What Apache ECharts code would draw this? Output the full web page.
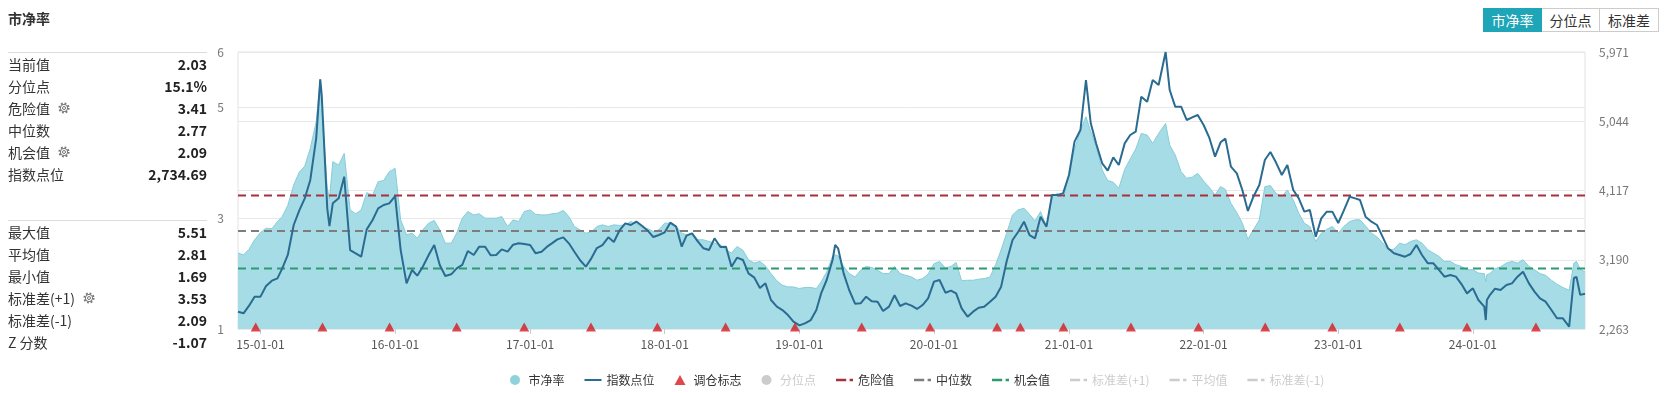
<!DOCTYPE html>
<html>
<head>
<meta charset="utf-8">
<script src="https://cdn.jsdelivr.net/npm/echarts@6/dist/echarts.min.js"></script>
<style>
html,body{margin:0;padding:0;background:#fff;width:1664px;height:393px;overflow:hidden;font-family:"Noto Sans CJK SC","Noto Sans",sans-serif;}
#chart{position:absolute;left:0;top:0;width:1664px;height:393px;}
.title{position:absolute;left:8px;top:8px;font-size:14px;font-weight:bold;color:#333;line-height:20px;}
.sep{position:absolute;left:8px;width:199px;height:1px;background:#dcdcdc;}
.row{position:absolute;left:8px;width:199px;height:22px;line-height:22px;font-size:14px;color:#333;white-space:nowrap;}
.row .v{position:absolute;right:0;top:0;font-weight:bold;color:#222;}
.row .gear{position:absolute;top:5px;width:12px;height:12px;}
.btns{position:absolute;left:1483px;top:8px;height:24px;display:flex;}
.btn{height:22px;line-height:22px;font-size:14px;color:#333;border:1px solid #ccc;background:#fff;text-align:center;box-sizing:content-box;}
.btn.active{background:#1ea5b8;border-color:#1ea5b8;color:#fff;}
</style>
</head>
<body>
<div id="chart"></div>
<div class="title">市净率</div>
<div class="sep" style="top:52px"></div>
<div class="row" style="top:53px">当前值<span class="v">2.03</span></div>
<div class="row" style="top:75px">分位点<span class="v">15.1%</span></div>
<div class="row" style="top:97px">危险值<svg class="gear" style="left:50px" viewBox="0 0 12 12"><g fill="none" stroke="#777"><circle cx="6" cy="6" r="4.6" stroke-width="2" stroke-dasharray="1.8 1.81"/><circle cx="6" cy="6" r="3.6" stroke-width="1"/><circle cx="6" cy="6" r="1.5" stroke-width="1"/></g></svg><span class="v">3.41</span></div>
<div class="row" style="top:119px">中位数<span class="v">2.77</span></div>
<div class="row" style="top:141px">机会值<svg class="gear" style="left:50px" viewBox="0 0 12 12"><g fill="none" stroke="#777"><circle cx="6" cy="6" r="4.6" stroke-width="2" stroke-dasharray="1.8 1.81"/><circle cx="6" cy="6" r="3.6" stroke-width="1"/><circle cx="6" cy="6" r="1.5" stroke-width="1"/></g></svg><span class="v">2.09</span></div>
<div class="row" style="top:163px">指数点位<span class="v">2,734.69</span></div>
<div class="sep" style="top:220px"></div>
<div class="row" style="top:221px">最大值<span class="v">5.51</span></div>
<div class="row" style="top:243px">平均值<span class="v">2.81</span></div>
<div class="row" style="top:265px">最小值<span class="v">1.69</span></div>
<div class="row" style="top:287px">标准差(+1)<svg class="gear" style="left:75px" viewBox="0 0 12 12"><g fill="none" stroke="#777"><circle cx="6" cy="6" r="4.6" stroke-width="2" stroke-dasharray="1.8 1.81"/><circle cx="6" cy="6" r="3.6" stroke-width="1"/><circle cx="6" cy="6" r="1.5" stroke-width="1"/></g></svg><span class="v">3.53</span></div>
<div class="row" style="top:309px">标准差(-1)<span class="v">2.09</span></div>
<div class="row" style="top:331px">Z 分数<span class="v">-1.07</span></div>
<div class="btns"><div class="btn active" style="width:57px">市净率</div><div class="btn" style="width:57px;border-left:none">分位点</div><div class="btn" style="width:58px;border-left:none">标准差</div></div>
<script>
// ---- data (one line per year) ----
const dates = [
  '2014-11-01','2014-11-16','2014-12-01','2014-12-16',
  '2015-01-01','2015-01-16','2015-02-01','2015-02-16','2015-03-01','2015-03-16','2015-04-01','2015-04-16','2015-05-01','2015-05-16','2015-06-01','2015-06-12','2015-06-16','2015-07-01','2015-07-07','2015-07-16','2015-08-01','2015-08-16','2015-09-01','2015-09-16','2015-10-01','2015-10-16','2015-11-01','2015-11-16','2015-12-01','2015-12-16',
  '2016-01-01','2016-01-16','2016-02-01','2016-02-16','2016-03-01','2016-03-16','2016-04-01','2016-04-16','2016-05-01','2016-05-16','2016-06-01','2016-06-16','2016-07-01','2016-07-16','2016-08-01','2016-08-16','2016-09-01','2016-09-16','2016-10-01','2016-10-16','2016-11-01','2016-11-16','2016-12-01','2016-12-16',
  '2017-01-01','2017-01-16','2017-02-01','2017-02-16','2017-03-01','2017-03-16','2017-04-01','2017-04-16','2017-05-01','2017-05-16','2017-06-01','2017-06-16','2017-07-01','2017-07-16','2017-08-01','2017-08-16','2017-09-01','2017-09-16','2017-10-01','2017-10-16','2017-11-01','2017-11-16','2017-12-01','2017-12-16',
  '2018-01-01','2018-01-16','2018-02-01','2018-02-16','2018-03-01','2018-03-16','2018-04-01','2018-04-16','2018-05-01','2018-05-16','2018-06-01','2018-06-16','2018-07-01','2018-07-16','2018-08-01','2018-08-16','2018-09-01','2018-09-16','2018-10-01','2018-10-16','2018-11-01','2018-11-16','2018-12-01','2018-12-16',
  '2019-01-01','2019-01-16','2019-02-01','2019-02-16','2019-03-01','2019-03-16','2019-04-01','2019-04-08','2019-04-16','2019-05-01','2019-05-16','2019-06-01','2019-06-16','2019-07-01','2019-07-16','2019-08-01','2019-08-16','2019-09-01','2019-09-16','2019-10-01','2019-10-16','2019-11-01','2019-11-16','2019-12-01','2019-12-16',
  '2020-01-01','2020-01-16','2020-02-01','2020-02-16','2020-03-01','2020-03-16','2020-04-01','2020-04-16','2020-05-01','2020-05-16','2020-06-01','2020-06-16','2020-07-01','2020-07-16','2020-08-01','2020-08-16','2020-09-01','2020-09-16','2020-10-01','2020-10-16','2020-11-01','2020-11-16','2020-12-01','2020-12-16',
  '2021-01-01','2021-01-16','2021-02-01','2021-02-16','2021-03-01','2021-03-16','2021-04-01','2021-04-16','2021-05-01','2021-05-16','2021-06-01','2021-06-16','2021-07-01','2021-07-16','2021-08-01','2021-08-16','2021-09-01','2021-09-20','2021-10-01','2021-10-16','2021-11-01','2021-11-16','2021-12-01','2021-12-16',
  '2022-01-01','2022-01-16','2022-02-01','2022-02-16','2022-03-01','2022-03-16','2022-04-01','2022-04-16','2022-05-01','2022-05-16','2022-06-01','2022-06-16','2022-07-01','2022-07-16','2022-08-01','2022-08-16','2022-09-01','2022-09-16','2022-10-01','2022-10-16','2022-11-01','2022-11-16','2022-12-01','2022-12-16',
  '2023-01-01','2023-01-16','2023-02-01','2023-02-16','2023-03-01','2023-03-16','2023-04-01','2023-04-16','2023-05-01','2023-05-16','2023-06-01','2023-06-16','2023-07-01','2023-07-16','2023-08-01','2023-08-16','2023-09-01','2023-09-16','2023-10-01','2023-10-16','2023-11-01','2023-11-16','2023-12-01','2023-12-16',
  '2024-01-01','2024-01-16','2024-02-01','2024-02-05','2024-02-08','2024-02-16','2024-03-01','2024-03-16','2024-04-01','2024-04-16','2024-05-01','2024-05-16','2024-06-01','2024-06-16','2024-07-01','2024-07-16','2024-08-01','2024-08-16','2024-09-01','2024-09-18','2024-10-01','2024-10-08','2024-10-18','2024-10-31'
];
const pbValues = [
  2.37,2.34,2.44,2.61,
  2.74,2.82,2.81,2.94,3.03,3.23,3.60,3.83,3.94,4.26,4.74,5.51,5.01,3.54,3.35,4.02,3.96,4.17,3.15,3.08,3.15,3.46,3.42,3.66,3.68,3.84,
  3.90,2.97,2.70,2.73,2.64,2.79,2.91,2.96,2.79,2.55,2.55,2.73,3.00,3.12,3.06,3.08,3.00,3.00,3.00,3.03,2.85,2.97,2.94,3.12,
  3.15,3.07,3.06,3.06,3.08,3.09,3.14,3.03,2.85,2.79,2.73,2.75,2.85,2.88,2.85,2.88,2.87,2.88,2.94,2.90,2.83,2.81,2.76,2.79,
  2.91,2.91,2.85,2.73,2.70,2.73,2.61,2.61,2.58,2.55,2.52,2.43,2.37,2.49,2.42,2.25,2.19,2.22,2.14,2.00,1.87,1.79,1.76,1.76,
  1.73,1.75,1.75,1.73,1.85,2.03,2.31,2.34,2.32,2.13,2.00,1.94,2.06,2.13,2.11,2.06,2.00,2.00,2.13,2.00,1.97,1.94,1.88,1.91,1.99,
  2.18,2.22,2.10,2.13,2.20,1.87,1.88,1.88,1.90,1.91,1.94,2.16,2.43,2.73,3.06,3.15,3.18,3.07,2.95,3.12,2.85,3.39,3.45,3.35,
  3.79,4.24,4.59,4.83,4.56,4.29,3.87,3.68,3.65,3.54,3.88,4.07,4.25,4.53,4.50,4.35,4.53,4.71,4.32,4.14,3.84,3.72,3.74,3.81,
  3.67,3.56,3.42,3.57,3.52,3.27,3.10,2.91,2.62,2.79,2.97,3.57,3.59,3.45,3.39,3.51,3.33,3.09,2.91,2.85,2.58,2.73,2.80,2.85,
  2.73,2.85,2.94,2.97,2.97,2.86,2.73,2.66,2.56,2.43,2.44,2.55,2.52,2.58,2.61,2.55,2.43,2.37,2.31,2.22,2.22,2.16,2.13,2.07,
  2.07,2.01,2.00,1.85,1.98,2.00,2.09,2.12,2.19,2.22,2.19,2.25,2.13,2.07,2.00,1.97,1.88,1.81,1.75,1.70,2.19,2.22,2.08,2.03
];
const indexValues = [
  2495,2473,2575,2696,
  2696,2839,2910,2941,3075,3254,3655,3847,4012,4258,4815,5605,5395,3878,3640,3945,4012,4302,3320,3276,3231,3597,3722,3878,3923,3945,
  4043,3320,2874,3053,2977,3097,3254,3387,3120,2972,2995,3075,3120,3307,3254,3365,3365,3250,3254,3329,3298,3392,3410,3401,
  3387,3276,3298,3365,3410,3463,3490,3410,3298,3187,3097,3209,3347,3387,3490,3428,3588,3677,3655,3700,3641,3579,3494,3521,
  3557,3686,3633,3365,3512,3544,3432,3343,3320,3477,3361,3365,3097,3218,3187,3008,2950,2812,2874,2651,2562,2517,2450,2361,
  2312,2339,2383,2517,2740,2919,3187,3387,3343,3008,2785,2602,2607,2696,2633,2629,2504,2562,2714,2571,2607,2575,2531,2584,2674,
  2897,2919,2749,2776,2740,2540,2428,2495,2548,2562,2629,2696,2830,3169,3454,3561,3700,3521,3477,3767,3633,4057,4057,4079,
  4324,4771,4927,5596,5016,4739,4481,4382,4561,4458,4748,4860,4905,5373,5306,5596,5529,5971,5462,5239,5239,5061,5096,5128,
  4994,4829,4570,4762,4811,4436,4347,4124,3843,4034,4191,4525,4632,4494,4325,4458,4124,4012,3834,3856,3499,3744,3834,3834,
  3682,3847,4034,4012,3990,3767,3700,3655,3499,3343,3276,3254,3231,3267,3387,3254,3142,3142,3053,2963,2986,2964,2865,2740,
  2807,2651,2562,2383,2651,2718,2803,2785,2852,2874,2964,3030,2874,2763,2673,2629,2517,2406,2406,2294,2946,2960,2720,2734.69
];
const rebalanceDates = [
  '2014-12-19','2015-06-18','2015-12-17','2016-06-16','2016-12-16','2017-06-15','2017-12-12',
  '2018-06-15','2018-12-20','2019-06-19','2019-12-21','2020-06-20','2020-08-22','2020-12-17',
  '2021-06-18','2021-12-18','2022-06-17','2022-12-16','2023-06-17','2023-12-16','2024-06-20'
];
const dangerValue = 3.41;
const medianValue = 2.77;
const chanceValue = 2.09;
const stdUpValue = 3.53;
const meanValue = 2.81;
const stdDownValue = 2.09;
const leftTicks = [1, 3, 5, 6];
const rightTicks = [2263, 3190, 4117, 5044, 5971];
const xTicks = ['2015-01-01','2016-01-01','2017-01-01','2018-01-01','2019-01-01','2020-01-01','2021-01-01','2022-01-01','2023-01-01','2024-01-01'];
const xStart = '2014-11-01';
const xEnd = '2024-10-31';

// ---- chart ----
const parseT = s => { const p = s.split('-'); return Date.UTC(+p[0], +p[1] - 1, +p[2]); };
const pad = n => (n < 10 ? '0' : '') + n;
const fmtDate = v => { const d = new Date(v); return String(d.getUTCFullYear()).slice(2) + '-' + pad(d.getUTCMonth() + 1) + '-' + pad(d.getUTCDate()); };
const flat = v => [[parseT(xStart), v], [parseT(xEnd), v]];
const dash = [8, 5];
const lineIcon = 'path://M0,0h17v2h-17z';
const dashIcon = 'path://M0,0h9v2h-9zM12,0h3v2h-3z';
const triIcon = 'path://M5.5,0L11,10L0,10Z';

const chart = echarts.init(document.getElementById('chart'), null, { renderer: 'canvas' });
const xTickTs = xTicks.map(parseT);
chart.setOption({
  animation: false,
  textStyle: { fontFamily: '"Noto Sans CJK SC","Noto Sans",sans-serif' },
  grid: { left: 238, right: 79, top: 52, bottom: 64, show: true, borderColor: '#e2e2e2', borderWidth: 1, backgroundColor: 'transparent' },
  legend: {
    left: 505, top: 369, itemWidth: 17, itemHeight: 10, itemGap: 20, symbolKeepAspect: true,
    textStyle: { fontSize: 12, color: '#333' }, inactiveColor: '#ccc',
    data: [
      { name: '市净率', icon: 'circle' }, { name: '指数点位', icon: lineIcon }, { name: '调仓标志', icon: triIcon },
      { name: '分位点', icon: 'circle' }, { name: '危险值', icon: dashIcon }, { name: '中位数', icon: dashIcon }, { name: '机会值', icon: dashIcon },
      { name: '标准差(+1)', icon: dashIcon }, { name: '平均值', icon: dashIcon }, { name: '标准差(-1)', icon: dashIcon }
    ],
    selected: { '分位点': false, '标准差(+1)': false, '平均值': false, '标准差(-1)': false }
  },
  xAxis: {
    type: 'value', min: parseT(xStart), max: parseT(xEnd), scale: true,
    axisLine: { show: false },
    axisTick: { show: true, length: 5, lineStyle: { color: '#ccc' }, customValues: xTickTs },
    axisLabel: { customValues: xTickTs, formatter: fmtDate, color: '#555', fontSize: 12, margin: 9 },
    splitLine: { show: false }
  },
  yAxis: [
    { type: 'value', min: leftTicks[0], max: leftTicks[leftTicks.length - 1], position: 'left',
      axisLine: { show: false }, axisTick: { show: false, customValues: leftTicks },
      axisLabel: { customValues: leftTicks, color: '#777', fontSize: 12, margin: 14 },
      splitLine: { show: true, lineStyle: { color: '#e8e8e8' } } },
    { type: 'value', min: rightTicks[0], max: rightTicks[rightTicks.length - 1], position: 'right',
      axisLine: { show: false }, axisTick: { show: false, customValues: rightTicks },
      axisLabel: { customValues: rightTicks, color: '#777', fontSize: 12, margin: 14 },
      splitLine: { show: true, lineStyle: { color: '#e8e8e8' } } }
  ],
  series: [
    { name: '市净率', type: 'line', yAxisIndex: 0, symbol: 'none', z: 1,
      data: dates.map((d, i) => [parseT(d), pbValues[i]]),
      itemStyle: { color: '#8fd2dc' }, lineStyle: { color: '#86cdd8', width: 1 },
      areaStyle: { color: '#a6dce6', opacity: 1 } },
    { name: '指数点位', type: 'line', yAxisIndex: 1, symbol: 'none', z: 5,
      data: dates.map((d, i) => [parseT(d), indexValues[i]]),
      itemStyle: { color: '#2a6b91' }, lineStyle: { color: '#2a6b91', width: 2 } },
    { name: '调仓标志', type: 'scatter', yAxisIndex: 0, symbol: 'triangle', symbolSize: [10, 9], symbolOffset: [0, -2], z: 6,
      data: rebalanceDates.map(d => [parseT(d), leftTicks[0]]),
      itemStyle: { color: '#d7191f' } },
    { name: '分位点', type: 'line', yAxisIndex: 0, symbol: 'none', data: [], itemStyle: { color: '#bbb' } },
    { name: '危险值', type: 'line', yAxisIndex: 0, symbol: 'none', z: 4, data: flat(dangerValue),
      itemStyle: { color: '#a8303c' }, lineStyle: { color: '#a8303c', width: 2, type: dash } },
    { name: '中位数', type: 'line', yAxisIndex: 0, symbol: 'none', z: 4, data: flat(medianValue),
      itemStyle: { color: '#7d7d7d' }, lineStyle: { color: '#7d7d7d', width: 2, type: dash } },
    { name: '机会值', type: 'line', yAxisIndex: 0, symbol: 'none', z: 4, data: flat(chanceValue),
      itemStyle: { color: '#2e9a70' }, lineStyle: { color: '#2e9a70', width: 2, type: dash } },
    { name: '标准差(+1)', type: 'line', yAxisIndex: 0, symbol: 'none', data: flat(stdUpValue),
      itemStyle: { color: '#999' }, lineStyle: { color: '#999', width: 2, type: dash } },
    { name: '平均值', type: 'line', yAxisIndex: 0, symbol: 'none', data: flat(meanValue),
      itemStyle: { color: '#999' }, lineStyle: { color: '#999', width: 2, type: dash } },
    { name: '标准差(-1)', type: 'line', yAxisIndex: 0, symbol: 'none', data: flat(stdDownValue),
      itemStyle: { color: '#999' }, lineStyle: { color: '#999', width: 2, type: dash } }
  ]
});
</script>
</body>
</html>
